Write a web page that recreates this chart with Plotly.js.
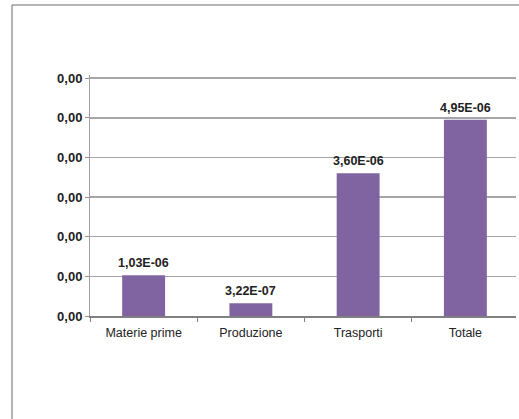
<!DOCTYPE html>
<html>
<head>
<meta charset="utf-8">
<script src="https://cdn.plot.ly/plotly-3.0.1.min.js"></script>
<style>
  html, body { margin: 0; padding: 0; background: #fff; overflow: hidden; }
  #wrap { position: relative; width: 519px; height: 419px; overflow: hidden; }
  #chart { position: absolute; left: 0; top: 0; width: 519px; height: 419px; }
  #mask { position: absolute; right: 0; top: 6px; width: 3px; height: 413px; background: #fff; z-index: 10; }
</style>
</head>
<body>
<div id="wrap">
  <div id="chart"></div>
  <div id="mask"></div>
</div>
<script>
const categories = ["Materie prime", "Produzione", "Trasporti", "Totale"];
const values = [1.03e-6, 3.22e-7, 3.60e-6, 4.95e-6];

function fmtE(v) {
  const s = v.toExponential(2);
  const parts = s.split("e");
  const mant = parts[0].replace(".", ",");
  const exp = parseInt(parts[1], 10);
  const sign = exp < 0 ? "-" : "+";
  const a = Math.abs(exp);
  return mant + "E" + sign + (a < 10 ? "0" + a : "" + a);
}
const labels = values.map(fmtE);

const W = 519, H = 419;
const M = { l: 90, r: 0, t: 75, b: 103 };
const plotW = W - M.l - M.r, plotH = H - M.t - M.b;
const fx = (12 - M.l) / plotW;
const fy = (H - M.b - 5) / plotH;

const trace = {
  type: "bar",
  x: categories,
  y: values,
  marker: { color: "#8064a2", line: { width: 0 } },
  width: 0.4,
  hoverinfo: "none"
};

const annotations = categories.map((c, i) => ({
  x: c, y: values[i], xref: "x", yref: "y",
  text: labels[i], showarrow: false,
  yanchor: "bottom", yshift: 3,
  font: { family: "Arial, 'Liberation Sans', sans-serif", size: 12.5, color: "#222", weight: "bold" }
}));

const layout = {
  width: W,
  height: H,
  margin: M,
  paper_bgcolor: "#fff",
  plot_bgcolor: "#fff",
  separators: ",.",
  showlegend: false,
  font: { family: "Arial, 'Liberation Sans', sans-serif", size: 12, color: "#222" },
  xaxis: {
    type: "category",
    tickson: "boundaries",
    ticks: "outside",
    ticklen: 4,
    tickcolor: "#808080",
    ticklabelstandoff: 4,
    showline: true,
    linecolor: "#808080",
    linewidth: 1.5,
    showgrid: false,
    tickfont: { size: 12.5, color: "#222" }
  },
  yaxis: {
    range: [0, 6.08e-6],
    dtick: 1e-6,
    tick0: 0,
    tickformat: ".2f",
    ticks: "outside",
    ticklen: 4,
    tickcolor: "#909090",
    showline: true,
    linecolor: "#a0a0a0",
    linewidth: 1,
    showgrid: true,
    gridcolor: "#a6a6a6",
    gridwidth: 1.5,
    zeroline: false,
    tickfont: { size: 13, color: "#222", weight: "bold" }
  },
  annotations: annotations,
  shapes: [
    { type: "line", xref: "paper", yref: "paper", x0: fx, x1: fx, y0: fy, y1: -2,
      line: { color: "#6b6b6b", width: 1 } },
    { type: "line", xref: "paper", yref: "paper", x0: fx, x1: 1, y0: fy, y1: fy,
      line: { color: "#6b6b6b", width: 1 } }
  ]
};

Plotly.newPlot("chart", [trace], layout, { staticPlot: true, displayModeBar: false });
</script>
</body>
</html>
